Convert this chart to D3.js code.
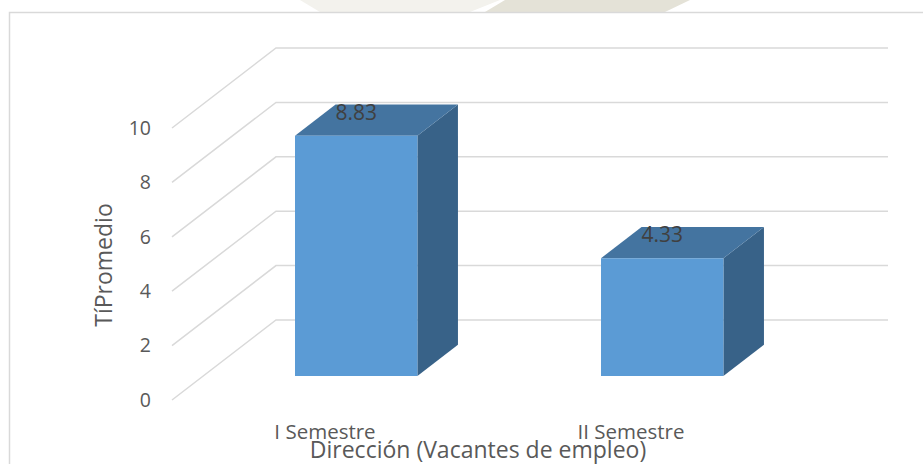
<!DOCTYPE html>
<html>
<head>
<meta charset="utf-8">
<script src="https://cdn.jsdelivr.net/npm/d3@7"></script>
<style>
  html, body { margin: 0; padding: 0; background: #ffffff; }
  svg { display: block; }
  text { font-family: "Open Sans", "DejaVu Sans", sans-serif; }
</style>
</head>
<body>
<svg id="chart" width="923" height="464"></svg>
<script>
// ---- data ----
const categories = ["I Semestre", "II Semestre"];
const values = [8.83, 4.33];
const valueLabels = ["8.83", "4.33"];
const yTicks = [0, 2, 4, 6, 8, 10];
const yTitle = "TíPromedio";
const xTitle = "Dirección (Vacantes de empleo)";

// ---- layout ----
const svg = d3.select("#chart");

// faint background watermark above the frame
svg.append("polygon")
  .attr("points", "300,0 500,0 470,12 320,12")
  .attr("fill", "#f3f2ed");
svg.append("polygon")
  .attr("points", "505,0 690,0 665,12 485,12")
  .attr("fill", "#e4e2d7");

// chart frame
svg.append("rect")
  .attr("x", 9.5).attr("y", 12.5)
  .attr("width", 940).attr("height", 470)
  .attr("fill", "#ffffff")
  .attr("stroke", "#d9d9d9").attr("stroke-width", 1.5);

// 3D projection: front plane + depth vector
const frontLeft = 172, frontRight = 784;
const depthDX = 104, depthDY = -80;
const y = d3.scaleLinear().domain([0, 10]).range([400, 128]);
const x = d3.scaleBand().domain(categories)
  .range([frontLeft, frontRight])
  .paddingInner(0.6).paddingOuter(0.3);
const P = (px, py, d) => [px + depthDX * d, py + depthDY * d];

// gridlines: diagonal side wall + horizontal back wall
const grid = svg.append("g");
yTicks.forEach(t => {
  const f = [frontLeft, y(t)];
  const b = P(frontLeft, y(t), 1);
  const bEnd = P(frontRight, y(t), 1);
  grid.append("path")
    .attr("d", d3.line()([f, b, bEnd]))
    .attr("fill", "none")
    .attr("stroke", "#d9d9d9")
    .attr("stroke-width", 1.5);
});

// y tick labels via an axis on the front plane
const yAxis = svg.append("g")
  .attr("transform", `translate(${frontLeft - 8},0)`)
  .call(d3.axisLeft(y).tickValues(yTicks).tickSize(0).tickPadding(13));
yAxis.select(".domain").remove();
yAxis.selectAll("text")
  .attr("fill", "#595959")
  .style("font-size", "19.5px")
  .style("font-family", "'Open Sans', sans-serif");

// bars
const d0 = 0.3, d1 = 0.69;
const fillFront = "#5b9bd5", fillTop = "#4474a0", fillSide = "#386288";
const bars = svg.append("g");
categories.forEach((c, i) => {
  const xl = x(c), xr = x(c) + x.bandwidth();
  const yb = y(0), yt = y(values[i]);
  const A = P(xl, yt, d0), B = P(xr, yt, d0), C = P(xr, yb, d0), D = P(xl, yb, d0);
  const A2 = P(xl, yt, d1), B2 = P(xr, yt, d1), C2 = P(xr, yb, d1);
  bars.append("path").attr("d", d3.line()([B, B2, C2, C]) + "Z").attr("fill", fillSide);
  bars.append("path").attr("d", d3.line()([A, A2, B2, B]) + "Z").attr("fill", fillTop);
  bars.append("path").attr("d", d3.line()([A, B, C, D]) + "Z").attr("fill", fillFront);
  const lc = P(x(c) + x.bandwidth() / 2, yt, d0);
  bars.append("text")
    .attr("x", lc[0]).attr("y", lc[1] - 24)
    .attr("text-anchor", "middle")
    .attr("dominant-baseline", "central")
    .attr("fill", "#404040")
    .style("font-size", "21px")
    .text(valueLabels[i]);
});

// category labels
categories.forEach(c => {
  svg.append("text")
    .attr("x", x(c) + x.bandwidth() / 2)
    .attr("y", 439)
    .attr("text-anchor", "middle")
    .attr("fill", "#595959")
    .style("font-size", "20.5px")
    .text(c);
});

// axis titles
svg.append("text")
  .attr("x", 478).attr("y", 458)
  .attr("text-anchor", "middle")
  .attr("fill", "#595959")
  .style("font-size", "23px")
  .text(xTitle);

svg.append("text")
  .attr("transform", "translate(112,265) rotate(-90)")
  .attr("text-anchor", "middle")
  .attr("fill", "#595959")
  .style("font-size", "23px")
  .text(yTitle);
</script>
</body>
</html>
